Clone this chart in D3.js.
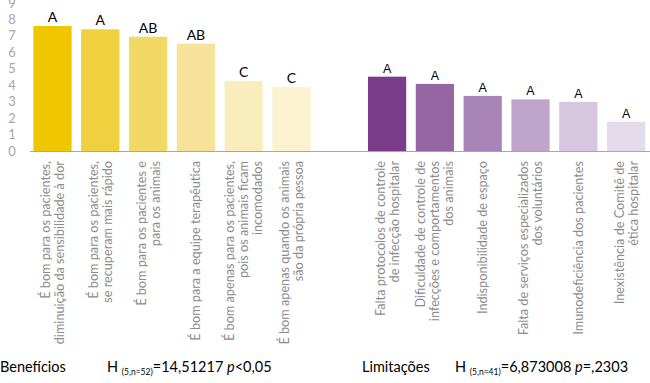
<!DOCTYPE html>
<html>
<head>
<meta charset="utf-8">
<script src="https://cdn.jsdelivr.net/npm/d3@7"></script>
<style>
  body { margin: 0; background: #fff; }
  svg { display: block; font-family: Lato, "Open Sans", sans-serif; }
</style>
</head>
<body>
<script>
// categorias (cada rótulo quebrado em linhas)
var beneficiosLabels = [
  ["É bom para os pacientes,", "diminuição da sensibilidade à dor"],
  ["É bom para os pacientes,", "se recuperam mais rápido"],
  ["É bom para os pacientes e", "para os animais"],
  ["É bom para a equipe terapêutica"],
  ["É bom apenas para os pacientes,", "pois os animais ficam", "incomodados"],
  ["É bom apenas quando os animais", "são da própria pessoa"]
];
var beneficiosValues = [7.6, 7.4, 6.95, 6.53, 4.26, 3.89];
var beneficiosLetras = ["A", "A", "AB", "AB", "C", "C"];

var limitacoesLabels = [
  ["Falta protocolos de controle", "de infecção hospitalar"],
  ["Dificuldade de controle de", "infecções e comportamentos", "dos animais"],
  ["Indisponibilidade de espaço"],
  ["Falta de serviços especializados", "dos voluntários"],
  ["Imunodeficiência dos pacientes"],
  ["Inexistência de Comitê de", "ética hospitalar"]
];
var limitacoesValues = [4.52, 4.08, 3.35, 3.14, 2.98, 1.78];
var limitacoesLetras = ["A", "A", "A", "A", "A", "A"];

var yTicks = [0, 1, 2, 3, 4, 5, 6, 7, 8, 9];

var coresBeneficios = ["#efc600", "#f1d03f", "#f2d864", "#f6e298", "#f9edbd", "#fbf3d0"];
var coresLimitacoes = ["#7a3b88", "#9566a2", "#a885b6", "#bfa5cc", "#d6c6df", "#e5dceb"];

var width = 650, height = 383;
var svg = d3.select("body").append("svg")
    .attr("width", width)
    .attr("height", height);

// monta as barras (com um espaço vazio entre os grupos)
var data = [];
beneficiosValues.forEach(function (v, i) {
  data.push({key: "b" + i, value: v, letra: beneficiosLetras[i], label: beneficiosLabels[i], cor: coresBeneficios[i], grupo: "b"});
});
limitacoesValues.forEach(function (v, i) {
  data.push({key: "l" + i, value: v, letra: limitacoesLetras[i], label: limitacoesLabels[i], cor: coresLimitacoes[i], grupo: "l"});
});
var dominio = data.slice(0, 6).map(function (d) { return d.key; })
    .concat(["gap"])
    .concat(data.slice(6).map(function (d) { return d.key; }));

var xScale = d3.scaleBand()
    .domain(dominio)
    .range([23.8, 654.8])
    .paddingInner(0.2)
    .paddingOuter(0.2);

var yScale = d3.scaleLinear()
    .domain([0, 9])
    .range([151, 3]);

// eixo y (só os números)
svg.append("g").selectAll("text")
    .data(yTicks)
    .enter().append("text")
    .attr("x", 12)
    .attr("y", function (d) { return yScale(d); })
    .attr("dy", "0.35em")
    .attr("text-anchor", "middle")
    .attr("fill", "#a6a6a6")
    .attr("font-size", 13)
    .text(function (d) { return d; });

// barras
svg.append("g").selectAll("rect")
    .data(data)
    .enter().append("rect")
    .attr("x", function (d) { return xScale(d.key); })
    .attr("y", function (d) { return yScale(d.value); })
    .attr("width", xScale.bandwidth())
    .attr("height", function (d) { return yScale(0) - yScale(d.value); })
    .attr("fill", function (d) { return d.cor; });

// linha de base
svg.append("line")
    .attr("x1", 30).attr("x2", 650)
    .attr("y1", yScale(0) + 0.5).attr("y2", yScale(0) + 0.5)
    .attr("stroke", "#a6a6a6")
    .attr("stroke-width", 1);

// letras acima das barras
svg.append("g").selectAll("text")
    .data(data)
    .enter().append("text")
    .attr("x", function (d) { return xScale(d.key) + xScale.bandwidth() / 2; })
    .attr("y", function (d) { return yScale(d.value) - 4; })
    .attr("text-anchor", "middle")
    .attr("fill", "#000")
    .attr("font-family", function (d) { return d.grupo == "b" ? "Lato" : "Liberation Sans"; })
    .attr("font-size", function (d) { return d.grupo == "b" ? 14 : 12.5; })
    .text(function (d) { return d.letra; });

// rótulos verticais
var passo = 14;
var rotulos = svg.append("g").selectAll("g")
    .data(data)
    .enter().append("g");
rotulos.each(function (d) {
  var cx = xScale(d.key) + xScale.bandwidth() / 2;
  var n = d.label.length;
  d3.select(this).selectAll("text")
      .data(d.label)
      .enter().append("text")
      .attr("transform", function (t, i) {
        return "translate(" + (cx + (i - (n - 1) / 2) * passo) + ",161) rotate(-90)";
      })
      .attr("dy", "0.35em")
      .attr("text-anchor", "end")
      .attr("fill", "#8c8c8c")
      .attr("font-size", 12.7)
      .text(function (t) { return t; });
});

// estatísticas no rodapé
function rodape(x0, titulo, xH, sub, valor, resto) {
  svg.append("text")
      .attr("x", x0).attr("y", 372)
      .attr("font-size", 14.5)
      .attr("fill", "#000")
      .text(titulo);
  var t = svg.append("text")
      .attr("x", xH).attr("y", 372)
      .attr("font-size", 14.5)
      .attr("fill", "#000");
  t.append("tspan").text("H ");
  t.append("tspan").attr("font-size", 8.5).attr("dy", 3).text(sub);
  t.append("tspan").attr("dy", -3).text(valor + " ");
  t.append("tspan").attr("font-style", "italic").text("p");
  t.append("tspan").text(resto);
}
rodape(0, "Benefícios", 107, "(5,n=52)", "=14,51217", "<0,05");
rodape(362, "Limitações", 455, "(5,n=41)", "=6,873008", "=,2303");
</script>
</body>
</html>
